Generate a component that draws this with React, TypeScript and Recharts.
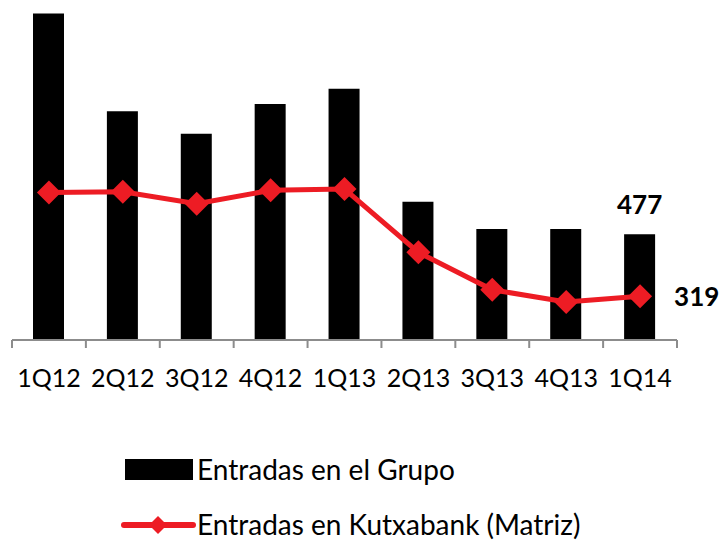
import React from 'react';
import { ComposedChart, Bar, Line, XAxis, YAxis, Legend, LabelList } from 'recharts';

const categories = ['1Q12', '2Q12', '3Q12', '4Q12', '1Q13', '2Q13', '3Q13', '4Q13', '1Q14'];
const grupo = [1474, 1033, 931, 1066, 1134, 624, 501, 501, 477];
const matriz = [1078, 1083, 995, 1093, 1102, 640, 367, 277, 319];
const boundaryTicks = [0, 1, 2, 3, 4, 5, 6, 7, 8, 9];

const data = categories.map((c, i) => ({ name: c, grupo: grupo[i], matriz: matriz[i], idx: i + 0.5 }));

const RED = '#ED1C24';
const FONT = 'Lato, "Open Sans", sans-serif';
const last = categories.length - 1;

const Diamond = (props: any) => {
  const { cx, cy } = props;
  if (cx == null || cy == null) return null;
  const r = 12;
  return <polygon points={`${cx},${cy - r} ${cx + r},${cy} ${cx},${cy + r} ${cx - r},${cy}`} fill={RED} />;
};

const LegendContent = () => (
  <div style={{ position: 'relative', height: 100, width: 722, fontFamily: FONT, fontSize: 28, color: '#000' }}>
    <svg width={200} height={100} style={{ position: 'absolute', left: 0, top: 0 }}>
      <rect x={125} y={19} width={68} height={21} fill="#000" />
      <line x1={124} y1={85} x2={193} y2={85} stroke={RED} strokeWidth={6} strokeLinecap="round" />
      <polygon points="158,76 167,85 158,94 149,85" fill={RED} />
    </svg>
    <div style={{ position: 'absolute', left: 197, top: 13, lineHeight: '32px' }}>Entradas en el Grupo</div>
    <div style={{ position: 'absolute', left: 197, top: 68, lineHeight: '32px' }}>Entradas en Kutxabank (Matriz)</div>
  </div>
);

const BarLabel = (props: any) => {
  const { x, y, width, index, value } = props;
  if (index !== last) return null;
  return (
    <text x={x + width / 2} y={y - 20} textAnchor="middle" fontFamily={FONT} fontWeight="bold" fontSize={26} fill="#000">
      {value}
    </text>
  );
};

const LineLabel = (props: any) => {
  const { x, y, index, value } = props;
  if (index !== last) return null;
  return (
    <text x={x + 34} y={y + 10} textAnchor="start" fontFamily={FONT} fontWeight="bold" fontSize={26} fill="#000">
      {value}
    </text>
  );
};

export default function App() {
  return (
    <div style={{ position: 'absolute', left: 0, top: 0, background: '#fff' }}>
      <ComposedChart width={722} height={540} data={data} margin={{ top: 10, right: 45, left: 12, bottom: 0 }}>
        <XAxis
          xAxisId="cat"
          dataKey="name"
          axisLine={false}
          tickLine={false}
          tickSize={0}
          tickMargin={21}
          height={92}
          interval={0}
          tick={{ fontFamily: FONT, fontSize: 25, fill: '#000' }}
        />
        <XAxis
          xAxisId="a"
          type="number"
          dataKey="idx"
          domain={[0, 9]}
          ticks={boundaryTicks}
          tickFormatter={() => ''}
          stroke="#8c8c8c"
          strokeWidth={2}
          tickSize={8}
          height={8}
          allowDataOverflow
        />
        <YAxis yAxisId="left" hide domain={[0, 1490]} />
        <YAxis yAxisId="right" orientation="right" hide domain={[0, 2410]} />
        <Legend verticalAlign="bottom" align="left" wrapperStyle={{ left: 0, width: 722, height: 100 }} content={<LegendContent />} />
        <Bar xAxisId="cat" yAxisId="left" dataKey="grupo" name="Entradas en el Grupo" fill="#000" barSize={31} isAnimationActive={false}>
          <LabelList dataKey="grupo" content={<BarLabel />} />
        </Bar>
        <Line
          xAxisId="cat"
          yAxisId="right"
          type="linear"
          dataKey="matriz"
          name="Entradas en Kutxabank (Matriz)"
          stroke={RED}
          strokeWidth={5}
          dot={<Diamond />}
          activeDot={false}
          isAnimationActive={false}
        >
          <LabelList dataKey="matriz" content={<LineLabel />} />
        </Line>
      </ComposedChart>
    </div>
  );
}
